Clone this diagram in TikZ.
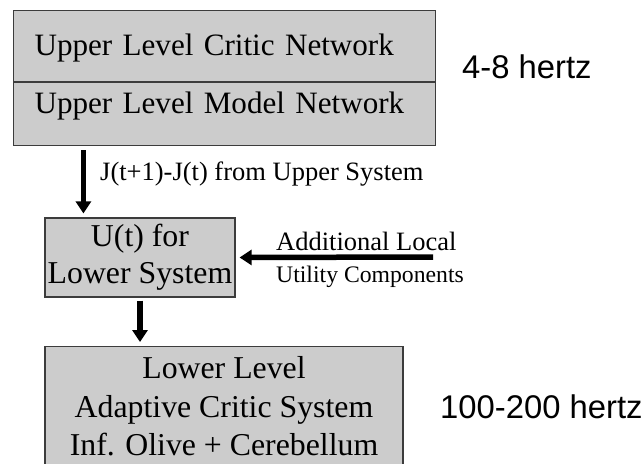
\documentclass[tikz,border=0pt]{standalone}
\usepackage{fontspec}
\setmainfont{Liberation Serif}
\newfontfamily\hzfont{Liberation Sans}
\usepackage{tikz}
\usetikzlibrary{arrows.meta, positioning, calc}
\usepackage{xcolor}
\definecolor{BG}{RGB}{204,204,204}
\definecolor{DG}{RGB}{60,60,60}

\begin{document}
\begin{tikzpicture}[x=1pt, y=-1pt,
  cellbox/.style={draw=DG, fill=BG, line width=1.2pt, inner sep=0pt},
  netcell/.style={cellbox, text width=380pt, align=left, inner xsep=21pt,
                  font=\fontsize{31.1}{37}\selectfont},
  sysbox/.style={cellbox, align=center, font=\fontsize{31.8}{37}\selectfont},
  flow/.style={-{Triangle[length=12pt, width=15pt]}, line width=5.5pt},
  lbl/.style={font=\fontsize{26.5}{30}\selectfont, inner sep=0pt},
  rate/.style={font=\hzfont\fontsize{32.8}{38}\selectfont, inner sep=0pt}
]
\useasboundingbox (0,0) rectangle (644,463);
\clip (0,0) rectangle (644,463);

% Upper level: critic and model networks
\node[netcell, text height=45pt, text depth=26pt, anchor=north west]
  (critic) at (13,10) {\mbox{Upper Level Critic Network}};
\node[netcell, text height=31pt, text depth=32pt, anchor=north west]
  (model) at (critic.south west) {\mbox{Upper Level Model Network}};

% Utility for the lower system
\node[sysbox, minimum width=190pt, minimum height=79pt]
  (ustate) at (140,257.5) {U(t) for\\Lower System};

% Lower level system (runs off the bottom edge)
\node[sysbox, minimum width=358pt, minimum height=120pt, anchor=north,
      font=\fontsize{31.8}{38.5}\selectfont]
  (lower) at (224,346) {Lower Level\\Adaptive Critic System\\Inf. Olive + Cerebellum};

% J difference passed down
\coordinate (jin) at ([xshift=39pt]ustate.north west);
\draw[flow, shorten <=4pt, shorten >=4pt] (jin |- model.south) -- (jin);
\node[lbl, anchor=base west] (jlbl) at (100,180) {J(t+1)-J(t) from Upper System};

% Local utility input
\coordinate (extra) at (433,257);
\draw[flow, shorten >=4pt] (extra) -- (ustate.east);
\node[lbl, anchor=base west] (addl) at (276,250) {Additional Local};
\node[lbl, font=\fontsize{23.7}{28}\selectfont, anchor=base west]
  (util) at (276,282) {Utility Components};

% Utility into lower level
\draw[flow, shorten <=3pt, shorten >=4pt] (ustate.south) -- (ustate.south |- lower.north);

% Rates
\node[rate, anchor=base west] (fast) at (462,78) {4-8 hertz};
\node[rate, anchor=base west] (slow) at (440,418) {100-200 hertz};
\end{tikzpicture}
\end{document}
